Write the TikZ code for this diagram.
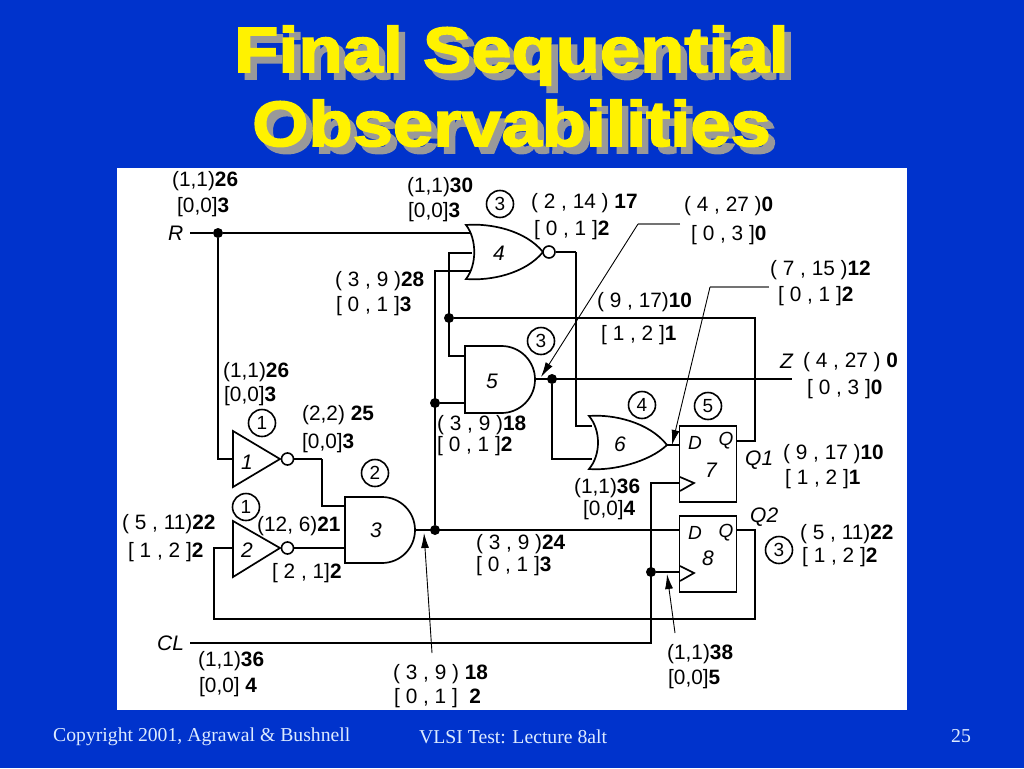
\documentclass[tikz,border=0pt]{standalone}
\usepackage{fontspec}
\setmainfont{Liberation Sans}
\newfontfamily\titlefont[FakeBold=2.6,FakeStretch=1.13]{Liberation Sans Bold}
\newfontfamily\footfont{Liberation Serif}
\usetikzlibrary{arrows.meta,positioning}
\definecolor{slideblue}{HTML}{0033CC}
\definecolor{shadowgrey}{HTML}{999999}
\definecolor{footpale}{HTML}{DDEBFF}
\newcommand{\val}[2]{#1\textbf{#2}}
\tikzset{
	wire/.style={line width=1.6pt,line join=miter},
	thickwire/.style={line width=2.8pt},
	gate/.style={line width=1.7pt},
	dotn/.style={circle,fill=black,inner sep=0pt,minimum size=10pt},
	bubble/.style={circle,draw,line width=1.6pt,fill=white,inner sep=0pt,minimum size=12pt},
	numc/.style={circle,draw,line width=1.6pt,inner sep=0pt,minimum size=27pt,font=\fontsize{19}{19}\selectfont},
	lab/.style={anchor=west,inner sep=0pt,yshift=-1.5pt,font=\fontsize{20.8}{21}\selectfont},
	name lab/.style={anchor=west,inner sep=0pt,font=\fontsize{21}{21}\selectfont\itshape},
	gnum/.style={inner sep=0pt,font=\fontsize{21}{21}\selectfont\itshape},
	pinl/.style={inner sep=0pt,font=\fontsize{19}{19}\selectfont\itshape},
	ffbox/.style={draw,line width=1.6pt,fill=white,minimum width=57pt,inner sep=0pt},
	pointer/.style={line width=0.9pt,-{Latex[length=15pt,width=8pt]}},
	leader/.style={line width=1.3pt,draw=black!55},
	titlet/.style={anchor=base,inner sep=0pt,font=\fontsize{64}{64}\titlefont},
	foot/.style={anchor=west,inner sep=0pt,yshift=-1.5pt,text=footpale,font=\fontsize{19.7}{20}\footfont}
}
\begin{document}
\begin{tikzpicture}[x=1pt,y=-1pt]
	\fill[slideblue] (0,0) rectangle (1024,768);
	\fill[white] (117,168) rectangle (907,710);
	% title
	\node (title1s) at (518,79)[titlet,text=shadowgrey] {Final Sequential};
	\node (title2s) at (518,153)[titlet,text=shadowgrey] {Observabilities};
	\node (title1) at (511.5,72)[titlet,text=yellow] {Final Sequential};
	\node (title2) at (511.5,146)[titlet,text=yellow] {Observabilities};
	% pins
	\coordinate (rs) at (190,233);
	\coordinate (cls) at (190,643);
	\coordinate (zs) at (792,379);
	\coordinate (a1) at (233,459);
	\coordinate (a2) at (233,548);
	\coordinate (a3t) at (345,506);
	\coordinate (a3b) at (345,548);
	\coordinate (o3) at (415,530);
	\coordinate (a4r) at (470,233);
	\coordinate (a4m) at (472,253);
	\coordinate (a4b) at (470,271);
	\coordinate (a5t) at (465,356);
	\coordinate (a5b) at (465,403);
	\coordinate (o5) at (535,379);
	\coordinate (a6t) at (592,426);
	\coordinate (a6b) at (592,459);
	\coordinate (o6) at (667,445);
	\coordinate (d7) at (680,445);
	\coordinate (q7) at (737,441);
	\coordinate (c7) at (680,483);
	\coordinate (d8) at (680,530);
	\coordinate (q8) at (737,530);
	\coordinate (c8) at (680,572);
	\coordinate (turn3) at (322,459);
	\coordinate (turn3b) at (322,506);
	\coordinate (turn4) at (435,271);
	\coordinate (turn4m) at (449,253);
	\coordinate (turn5) at (449,356);
	\coordinate (fbl) at (214,619);
	\coordinate (fbt) at (214,548);
	\coordinate (fbr) at (755,619);
	\coordinate (fbq) at (755,530);
	\coordinate (q1r) at (755,441);
	\coordinate (q1t) at (755,318);
	\coordinate (nor1) at (576,252);
	\coordinate (nor2) at (576,426);
	\coordinate (low6) at (552,459);
	\coordinate (rin1) at (218,459);
	\coordinate (clk1) at (651,483);
	\coordinate (clk3) at (651,643);
	% junctions
	\node (jr) at (218,233)[dotn] {};
	\node (j3) at (435,530)[dotn] {};
	\node (j5) at (435,403)[dotn] {};
	\node (j4) at (449,318)[dotn] {};
	\node (j6) at (552,379)[dotn] {};
	\node (jc) at (651,572)[dotn] {};
	% wires
	\draw[thickwire] (jr)--(a4r);
	\draw[wire] (rs)--(jr)--(rin1)--(a1);
	\draw[wire] (cls)--(clk3)--(clk1)--(c7);
	\draw[wire] (jc)--(c8);
	\draw[wire] (turn3)--(turn3b)--(a3t);
	\draw[wire] (o3)--(d8);
	\draw[wire] (j3)--(turn4)--(a4b);
	\draw[wire] (j5)--(a5b);
	\draw[wire] (a4m)--(turn4m)--(turn5)--(a5t);
	\draw[wire] (j4)--(q1t)--(q1r)--(q7);
	\draw[wire] (o5)--(zs);
	\draw[wire] (j6)--(low6)--(a6b);
	\draw[wire] (nor1)--(nor2)--(a6t);
	\draw[wire] (o6)--(d7);
	\draw[wire] (q8)--(fbq)--(fbr)--(fbl)--(fbt)--(a2);
	% gates
	\draw[gate,fill=white] (233,431)--(280,459)--(233,487)--cycle;
	\draw[gate,fill=white] (233,521)--(280,548)--(233,577)--cycle;
	\draw[gate,fill=white] (345,497)--(382,497) arc (-90:90:33)--(345,563)--cycle;
	\draw[gate,fill=white] (465,346)--(501.5,346) arc (-90:90:33.5)--(465,413)--cycle;
	\draw[gate,fill=white] (466,225) .. controls (490,223) and (525,230) .. (543,252)
		.. controls (525,274) and (490,281) .. (466,279)
		.. controls (477,265) and (477,239) .. (466,225)--cycle;
	\draw[gate,fill=white] (589,416) .. controls (613,414) and (649,422) .. (667,445)
		.. controls (649,462) and (613,471) .. (589,469)
		.. controls (601,455) and (601,430) .. (589,416)--cycle;
	\node (b1) at (287.5,459)[bubble] {};
	\node (b2) at (287.5,548)[bubble] {};
	\node (b4) at (549,252)[bubble] {};
	\draw[wire] (b1)--(turn3);
	\draw[wire] (b2)--(a3b);
	\draw[wire] (b4)--(nor1);
	\node (ff7) at (708,464)[ffbox,minimum height=76pt] {};
	\node (ff8) at (708,554)[ffbox,minimum height=76pt] {};
	\draw[gate] (680,477)--(694,483)--(680,491);
	\draw[gate] (680,566)--(694,573)--(680,581);
	% pointers
	\coordinate (p1a) at (680,224);
	\coordinate (p1b) at (638,224);
	\coordinate (p1c) at (541,377);
	\coordinate (p2a) at (769,287);
	\coordinate (p2b) at (710,287);
	\coordinate (p2c) at (672,445);
	\coordinate (p3a) at (432,653);
	\coordinate (p3c) at (424,533);
	\coordinate (p4a) at (675,633);
	\coordinate (p4c) at (667,574);
	\draw[leader] (p1a)--(p1b);
	\draw[leader] (p2a)--(p2b);
	\draw[pointer] (p1b)--(p1c);
	\draw[pointer] (p2b)--(p2c);
	\draw[pointer] (p3a)--(p3c);
	\draw[pointer] (p4a)--(p4c);
	% gate numbers
	\node (g1) at (247,462)[gnum] {1};
	\node (g2) at (247,550)[gnum] {2};
	\node (g3) at (376,530)[gnum] {3};
	\node (g4) at (499,253)[gnum] {4};
	\node (g5) at (492,381)[gnum] {5};
	\node (g6) at (620,444)[gnum] {6};
	\node (g7) at (711,470)[gnum] {7};
	\node (g8) at (708,558)[gnum] {8};
	\node (d7l) at (695,443)[pinl] {D};
	\node (q7l) at (726,441)[pinl] {Q};
	\node (d8l) at (695,533)[pinl] {D};
	\node (q8l) at (726,533)[pinl] {Q};
	% level circles
	\node (n4) at (500,204)[numc] {3};
	\node (n1) at (262,423)[numc] {1};
	\node (n3) at (375,473)[numc] {2};
	\node (n2) at (246,507)[numc] {1};
	\node (n5) at (541,341)[numc] {3};
	\node (n6) at (642,405)[numc] {4};
	\node (n7) at (708,406)[numc] {5};
	\node (n8) at (779,550)[numc] {3};
	% signal names
	\node (lr) at (168,233)[name lab] {R};
	\node (lcl) at (157,643)[name lab] {CL};
	\node (lz) at (780,361)[name lab] {Z};
	\node (lq1) at (745,460)[name lab] {Q1};
	\node (lq2) at (750,517)[name lab] {Q2};
	% values
	\node (v1a) at (172,180)[lab] {\val{(1,1)}{26}};
	\node (v1b) at (177,206)[lab] {\val{[0,0]}{3}};
	\node (v2a) at (407,186)[lab] {\val{(1,1)}{30}};
	\node (v2b) at (408,211)[lab] {\val{[0,0]}{3}};
	\node (v3a) at (531,202)[lab] {\val{( 2 , 14 )}{ 17}};
	\node (v3b) at (534,229)[lab] {\val{[ 0 , 1 ]}{2}};
	\node (v4a) at (684,205)[lab] {\val{( 4 , 27 )}{0}};
	\node (v4b) at (691,234)[lab] {\val{[ 0 , 3 ]}{0}};
	\node (v5a) at (770,269)[lab] {\val{( 7 , 15 )}{12}};
	\node (v5b) at (778,295)[lab] {\val{[ 0 , 1 ]}{2}};
	\node (v6a) at (335,280)[lab] {\val{( 3 , 9 )}{28}};
	\node (v6b) at (336,305)[lab] {\val{[ 0 , 1 ]}{3}};
	\node (v7a) at (597,301)[lab] {\val{( 9 , 17)}{10}};
	\node (v7b) at (601,334)[lab] {\val{[ 1 , 2 ]}{1}};
	\node (v8a) at (223,371)[lab] {\val{(1,1)}{26}};
	\node (v8b) at (224,395)[lab] {\val{[0,0]}{3}};
	\node (v9a) at (302,414)[lab] {\val{(2,2)}{ 25}};
	\node (v9b) at (302,442)[lab] {\val{[0,0]}{3}};
	\node (v10a) at (437,424)[lab] {\val{( 3 , 9 )}{18}};
	\node (v10b) at (437,445)[lab] {\val{[ 0 , 1 ]}{2}};
	\node (v11a) at (803,361)[lab] {\val{( 4 , 27 )}{ 0}};
	\node (v11b) at (807,388)[lab] {\val{[ 0 , 3 ]}{0}};
	\node (v12a) at (783,453)[lab] {\val{( 9 , 17 )}{10}};
	\node (v12b) at (785,478)[lab] {\val{[ 1 , 2 ]}{1}};
	\node (v13a) at (800,533)[lab] {\val{( 5 , 11)}{22}};
	\node (v13b) at (802,556)[lab] {\val{[ 1 , 2 ]}{2}};
	\node (v14a) at (574,487)[lab] {\val{(1,1)}{36}};
	\node (v14b) at (583,509)[lab] {\val{[0,0]}{4}};
	\node (v15a) at (122,523)[lab] {\val{( 5 , 11)}{22}};
	\node (v15b) at (128,551)[lab] {\val{[ 1 , 2 ]}{2}};
	\node (v16a) at (257,525)[lab] {\val{(12, 6)}{21}};
	\node (v16b) at (272,572)[lab] {\val{[ 2 , 1]}{2}};
	\node (v17a) at (476,543)[lab] {\val{( 3 , 9 )}{24}};
	\node (v17b) at (476,565)[lab] {\val{[ 0 , 1 ]}{3}};
	\node (v18a) at (198,660)[lab] {\val{(1,1)}{36}};
	\node (v18b) at (199,686)[lab] {\val{[0,0]}{ 4}};
	\node (v19a) at (393,673)[lab] {\val{( 3 , 9 )}{ 18}};
	\node (v19b) at (394,697)[lab] {\val{[ 0 , 1 ]}{ \ 2}};
	\node (v20a) at (667,653)[lab] {\val{(1,1)}{38}};
	\node (v20b) at (668,678)[lab] {\val{[0,0]}{5}};
	% footer
	\node (f1) at (53,735)[foot] {Copyright 2001, Agrawal \& Bushnell};
	\node (f2) at (419,735)[foot] {VLSI Test: Lecture 8alt};
	\node (f3) at (951,735)[foot] {25};
\end{tikzpicture}
\end{document}
